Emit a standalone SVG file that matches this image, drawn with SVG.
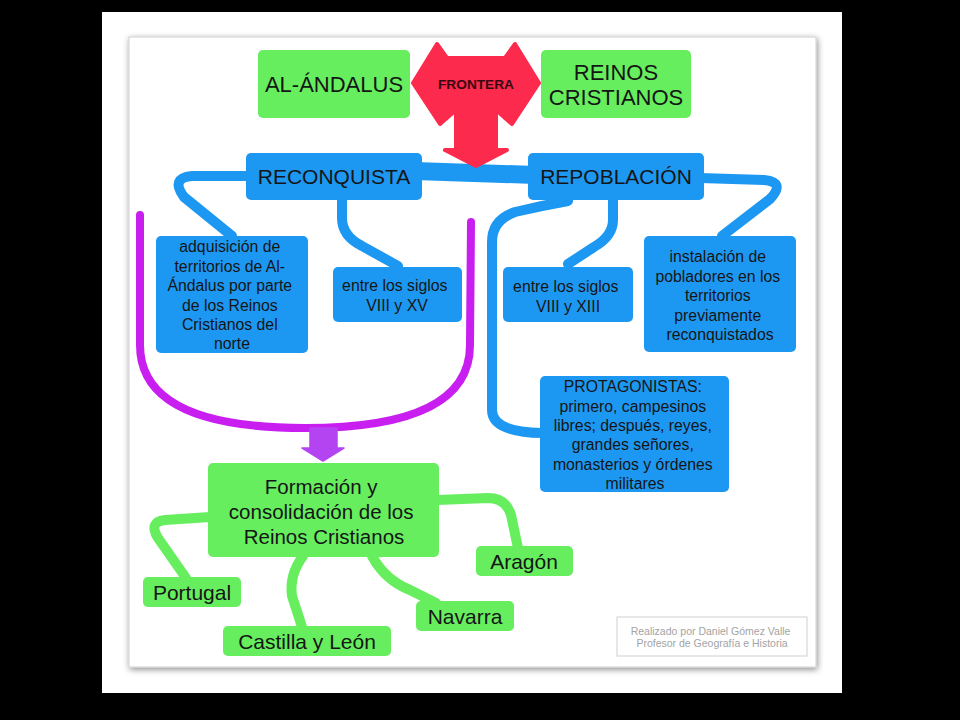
<svg xmlns="http://www.w3.org/2000/svg" width="960" height="720" viewBox="0 0 960 720">
<defs>
<filter id="sh" x="-5%" y="-5%" width="110%" height="110%">
<feDropShadow dx="1" dy="2" stdDeviation="3" flood-color="#000" flood-opacity="0.45"/>
</filter>
<style>
.t{font-family:"Liberation Sans",Arial,sans-serif;fill:#151515;text-anchor:middle}
.g{fill:#66ee5e}
.b{fill:#1d98f2}
.cb{fill:none;stroke:#1d98f2;stroke-width:10;stroke-linecap:round;stroke-linejoin:round}
.cg{fill:none;stroke:#66ee5e;stroke-width:10;stroke-linecap:round;stroke-linejoin:round}
.s21{font-size:21px}
.s22{font-size:22px}
.s16{font-size:15.8px}
.s20{font-size:20.5px}
</style>
</defs>
<rect width="960" height="720" fill="#000"/>
<rect x="102" y="12" width="740" height="681" fill="#fff"/>
<rect x="129" y="37" width="687" height="630" fill="#fff" stroke="#d0d0d0" stroke-width="1" filter="url(#sh)"/>

<g id="connectors">
<path class="cb" d="M250,176 L192,176 Q170,178 184,197 L232,236"/>
<path class="cb" d="M342,198 L342,218 Q342,236 362,246 L398,266"/>
<path class="cb" d="M613,198 L613,220 Q613,236 594,247 L568,264"/>
<path class="cb" d="M700,178 L764,180 Q786,182 770,199 L722,236"/>
<path class="cb" d="M568,201 Q540,206 515,212 Q492,220 492,242 L492,410 Q492,432 542,433"/>
<path d="M415,171 L535,175" fill="none" stroke="#1d98f2" stroke-width="18"/>
<path d="M140,215 L140,345 Q140,428 305,428 Q470,428 470,345 L471,222" fill="none" stroke="#c81ef0" stroke-width="8" stroke-linecap="round"/>
<polygon points="310,428 337,428 337,448 344,448 323,461 302,448 310,448" fill="#b444f2" stroke="#b444f2" stroke-width="1.5" stroke-linejoin="round"/>
<path class="cg" d="M210,517 L165,520 Q148,522 158,538 L186,578"/>
<path class="cg" d="M303,556 Q289,575 292,596 L302,627"/>
<path class="cg" d="M372,556 Q385,580 410,590 L436,603"/>
<path class="cg" d="M437,500 L488,498 Q506,498 511,515 L518,548"/>
</g>

<g id="frontera">
<polygon points="413,83 437,44 447,58 505,58 515,44 539,83 512,124 496,110 496,150 507,150 476,166 445,150 456,150 456,110 440,124" fill="#fc2a4c" stroke="#fc2a4c" stroke-width="4" stroke-linejoin="round"/>
<text class="t" x="476" y="89" style="font-size:13px;font-weight:bold;fill:#3a0710" textLength="76" lengthAdjust="spacingAndGlyphs">FRONTERA</text>
</g>

<g id="al-andalus">
<rect class="g" x="258" y="50" width="152" height="68" rx="5"/>
<text class="t s22" x="334" y="92">AL-ÁNDALUS</text>
</g>

<g id="reinos-cristianos">
<rect class="g" x="541" y="50" width="150" height="68" rx="5"/>
<text class="t s22" x="616" y="80">REINOS</text>
<text class="t s22" x="616" y="105">CRISTIANOS</text>
</g>

<g id="reconquista">
<rect class="b" x="246" y="153" width="176" height="47" rx="5"/>
<text class="t s21" x="334" y="184">RECONQUISTA</text>
</g>

<g id="repoblacion">
<rect class="b" x="528" y="153" width="176" height="47" rx="5"/>
<text class="t s21" x="616" y="184">REPOBLACIÓN</text>
</g>

<g id="adquisicion">
<rect class="b" x="156" y="236" width="152" height="117" rx="5"/>
<text class="t s16">
<tspan x="232" y="252">adquisición de</tspan>
<tspan x="232" y="271.5">territorios de Al-</tspan>
<tspan x="232" y="291">Ándalus por parte</tspan>
<tspan x="232" y="310.5">de los Reinos</tspan>
<tspan x="232" y="330">Cristianos del</tspan>
<tspan x="232" y="349">norte</tspan>
</text>
</g>

<g id="siglos-xv">
<rect class="b" x="333" y="267" width="129" height="55" rx="5"/>
<text class="t s16">
<tspan x="397" y="291">entre los siglos</tspan>
<tspan x="397" y="311">VIII y XV</tspan>
</text>
</g>

<g id="siglos-xiii">
<rect class="b" x="503" y="267" width="130" height="55" rx="5"/>
<text class="t s16">
<tspan x="568" y="292">entre los siglos</tspan>
<tspan x="568" y="312">VIII y XIII</tspan>
</text>
</g>

<g id="instalacion">
<rect class="b" x="644" y="236" width="152" height="116" rx="5"/>
<text class="t s16">
<tspan x="720" y="262">instalación de</tspan>
<tspan x="720" y="281.5">pobladores en los</tspan>
<tspan x="720" y="301">territorios</tspan>
<tspan x="720" y="320.5">previamente</tspan>
<tspan x="720" y="340">reconquistados</tspan>
</text>
</g>

<g id="protagonistas">
<rect class="b" x="540" y="376" width="189" height="116" rx="5"/>
<text class="t s16">
<tspan x="635" y="392">PROTAGONISTAS:</tspan>
<tspan x="635" y="411.5">primero, campesinos</tspan>
<tspan x="635" y="431">libres; después, reyes,</tspan>
<tspan x="635" y="450">grandes señores,</tspan>
<tspan x="635" y="469.5">monasterios y órdenes</tspan>
<tspan x="635" y="489">militares</tspan>
</text>
</g>

<g id="formacion">
<rect class="g" x="208" y="463" width="231" height="94" rx="5"/>
<text class="t s20">
<tspan x="324" y="494">Formación y</tspan>
<tspan x="324" y="519">consolidación de los</tspan>
<tspan x="324" y="544">Reinos Cristianos</tspan>
</text>
</g>

<g id="portugal">
<rect class="g" x="143" y="577" width="98" height="30" rx="5"/>
<text class="t s21" x="192" y="600">Portugal</text>
</g>

<g id="castilla">
<rect class="g" x="223" y="626" width="168" height="30" rx="5"/>
<text class="t s21" x="307" y="649">Castilla y León</text>
</g>

<g id="navarra">
<rect class="g" x="416" y="601" width="98" height="30" rx="5"/>
<text class="t s21" x="465" y="624">Navarra</text>
</g>

<g id="aragon">
<rect class="g" x="476" y="546" width="97" height="30" rx="5"/>
<text class="t s21" x="524" y="569">Aragón</text>
</g>

<g id="credito">
<rect x="617" y="617" width="190" height="39" fill="#fff" stroke="#cfcfcf" stroke-width="1"/>
<text class="t" style="font-size:10.5px;fill:#a3a3a3">
<tspan x="712" y="635">Realizado por Daniel Gómez Valle</tspan>
<tspan x="712" y="647">Profesor de Geografía e Historia</tspan>
</text>
</g>
</svg>
